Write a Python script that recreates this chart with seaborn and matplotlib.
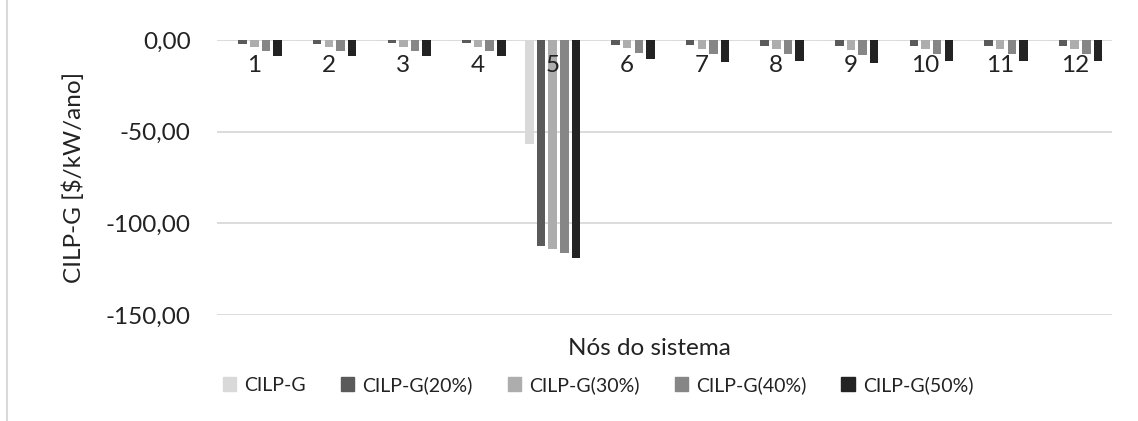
import numpy as np
import pandas as pd
import matplotlib as mpl
mpl.use("Agg")
import matplotlib.pyplot as plt
import seaborn as sns
from matplotlib.ticker import FuncFormatter, MultipleLocator
from matplotlib.lines import Line2D

#  -- data ----------------------------------------
nodes = ["1", "2", "3", "4", "5", "6", "7", "8", "9", "10", "11", "12"]
series = ["CILP-G", "CILP-G(20%)", "CILP-G(30%)", "CILP-G(40%)", "CILP-G(50%)"]
cilp_g = [-0.6, -0.6, -0.6, -0.6, -56.5, -0.8, -0.8, -0.8, -0.8, -0.8, -0.8, -0.8]
cilp_g20 = [-2.2, -2.2, -1.9, -1.9, -112.5, -2.7, -2.7, -3.1, -3.1, -3.1, -3.1, -3.1]
cilp_g30 = [-3.7, -3.7, -3.7, -3.7, -114.0, -4.4, -5.0, -5.0, -5.5, -5.0, -5.0, -5.0]
cilp_g40 = [-5.9, -5.9, -5.9, -5.9, -116.2, -7.0, -7.9, -7.9, -8.2, -7.9, -7.9, -7.9]
cilp_g50 = [-8.6, -8.6, -8.6, -8.6, -118.7, -10.5, -11.9, -11.5, -12.3, -11.5, -11.5, -11.5]
colors = ["#d9d9d9", "#5a5a5a", "#adadad", "#868686", "#232323"]

df = pd.DataFrame({"no": nodes, series[0]: cilp_g, series[1]: cilp_g20,
                   series[2]: cilp_g30, series[3]: cilp_g40, series[4]: cilp_g50})
df = df.melt(id_vars="no", var_name="serie", value_name="valor")

#  -- plot ----------------------------------------
sns.set_style("white")
plt.rcParams["font.family"] = ["Lato", "DejaVu Sans"]
fs = 17.5   # axis text
fs_leg = 14
txt = "#222222"

fig = plt.figure(figsize=(11.38, 4.21), dpi=100)
W, H = 1138., 421.
ax = fig.add_axes([217/W, 1-315/H, (1112-217)/W, (315-40)/H])

sns.barplot(data=df, x="no", y="valor", hue="serie", hue_order=series,
            palette=colors, width=0.78, gap=0.27, saturation=1,
            linewidth=0, ax=ax)

ax.set_ylim(-150, 0)
ax.yaxis.set_major_locator(MultipleLocator(50))
ax.yaxis.set_major_formatter(FuncFormatter(lambda v, p: "{:.2f}".format(v).replace(".", ",")))
ax.grid(axis="y", color="#d9d9d9", linewidth=1.3)
ax.set_axisbelow(True)
for s in ax.spines.values():
    s.set_visible(False)
ax.tick_params(axis="y", length=0, pad=19, labelcolor=txt, labelsize=fs)

# category labels sit under the zero line
ax.set_xticks([])
for i, n in enumerate(nodes):
    ax.text(i, 1 - 25/275., n, transform=ax.get_xaxis_transform(),
            ha="center", va="center", color=txt, fontsize=fs)

ax.set_xlabel("Nós do sistema", color=txt, fontsize=fs)
ax.xaxis.set_label_coords((649-217)/895., -(338-315)/275.)
ax.set_ylabel("CILP-G [$/kW/ano]", color=txt, fontsize=fs)
ax.yaxis.set_label_coords((85-217)/895., 0.5)

ax.get_legend().remove()
handles = [mpl.patches.Patch(color=c) for c in colors]
fig.legend(handles, series, loc="center", bbox_to_anchor=(598/W, 1-385/H),
           ncol=5, frameon=False, handlelength=0.7, handleheight=0.7,
           handletextpad=0.4, columnspacing=1.8, labelcolor=txt, fontsize=fs_leg)

fig.add_artist(Line2D([7/W, 7/W], [0, 1], color="#d9d9d9", linewidth=1.5))

fig.savefig("out.png", dpi=100)
